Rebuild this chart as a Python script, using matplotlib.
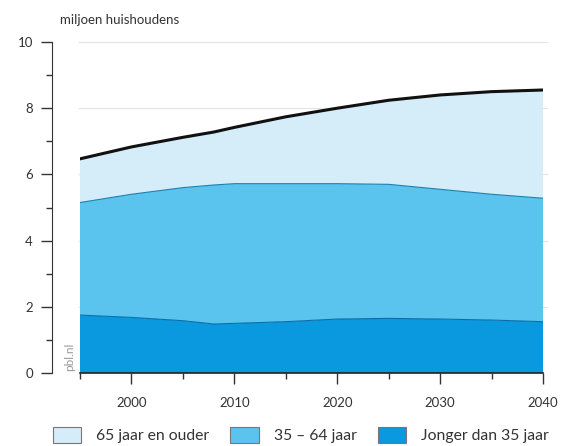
import matplotlib
matplotlib.use('Agg')
import matplotlib.pyplot as plt
from matplotlib.patches import Patch

plt.rcParams['font.family'] = ['Lato', 'DejaVu Sans']

# data (miljoen huishoudens)
years = [1995, 2000, 2005, 2008, 2010, 2015, 2020, 2025, 2030, 2035, 2040]
jong = [1.75, 1.68, 1.58, 1.48, 1.50, 1.55, 1.63, 1.65, 1.63, 1.60, 1.55]
midden_top = [5.15, 5.40, 5.60, 5.68, 5.72, 5.72, 5.72, 5.70, 5.55, 5.40, 5.28]
totaal = [6.47, 6.83, 7.12, 7.28, 7.42, 7.74, 8.00, 8.24, 8.40, 8.50, 8.55]
midden = [m - j for m, j in zip(midden_top, jong)]
oud = [t - m for t, m in zip(totaal, midden_top)]

labels = ['65 jaar en ouder', '35 \u2013 64 jaar', 'Jonger dan 35 jaar']
colors = ['#d4edf9', '#5bc4ee', '#0a98de']
xticks = [2000, 2010, 2020, 2030, 2040]

fig = plt.figure(figsize=(5.63, 4.46), dpi=100)
ax = fig.add_axes([80 / 563, 73 / 446, 463 / 563, 331 / 446])

ax.hlines([2, 4, 6, 8, 10], 1994.8, 2040.5, color='#e4e4e4', lw=0.8, zorder=0, clip_on=False)
ax.stackplot(years, jong, midden, oud, colors=[colors[2], colors[1], colors[0]], zorder=1, lw=0)
ax.plot(years, jong, color='#0a6fa8', lw=0.8, zorder=2)
ax.plot(years, midden_top, color='#1d7fae', lw=0.8, zorder=2)
ax.plot(years, totaal, color='#111111', lw=2.2, zorder=3)

ax.set_xlim(1995, 2040)
ax.set_ylim(0, 10)
for s in ['top', 'right']:
    ax.spines[s].set_visible(False)
ax.spines['left'].set_position(('outward', 20))
ax.spines['left'].set_color('#333333')
ax.spines['bottom'].set_color('#222222')
ax.spines['bottom'].set_linewidth(1.2)

ax.set_yticks([0, 2, 4, 6, 8, 10])
ax.set_yticks([1, 3, 5, 7, 9], minor=True)
ax.set_xticks(xticks)
ax.set_xticks([1995, 2005, 2015, 2025, 2035], minor=True)
ax.tick_params(axis='both', which='major', length=8, width=1, color='#333333',
               labelsize=9.5, labelcolor='#333333', pad=6)
ax.tick_params(axis='both', which='minor', length=4, width=1, color='#333333')
ax.tick_params(axis='x', which='major', pad=9)

fig.text(60 / 563, 1 - 20 / 446, 'miljoen huishoudens',
         fontsize=9.5, color='#333333', ha='left', va='center')
ax.text(-0.022, 0.005, 'pbl.nl', transform=ax.transAxes, rotation=90,
        fontsize=8.5, color='#999999', ha='center', va='bottom')

handles = [Patch(facecolor=c, edgecolor='#777777', lw=0.8) for c in colors]
fig.legend(handles, labels, loc='center left', bbox_to_anchor=(53 / 563, 1 - 435 / 446), ncol=3,
           frameon=False, fontsize=11.3, handlelength=1.8, handleheight=1.27,
           columnspacing=1.35, handletextpad=0.95, labelcolor='#333333',
           borderpad=0, borderaxespad=0)

fig.savefig('out.png', dpi=100)
